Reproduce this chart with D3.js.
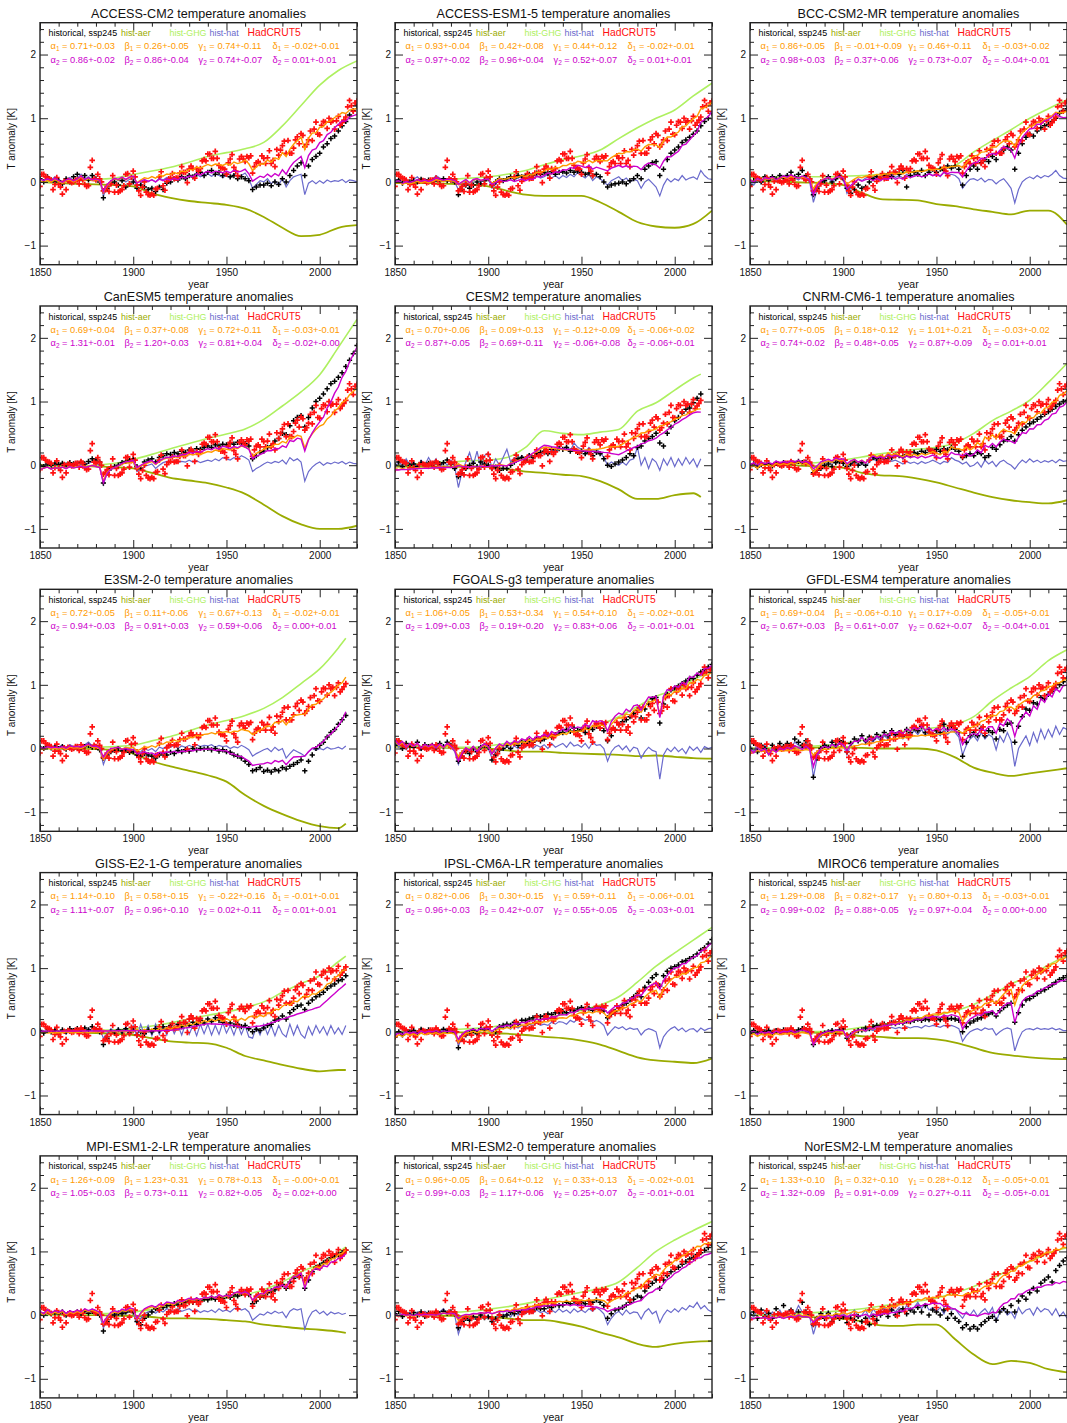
<!DOCTYPE html>
<html>
<head>
<meta charset="utf-8">
<script src="https://cdn.jsdelivr.net/npm/d3@7"></script>
<style>
  body { margin: 0; background: #fff; }
  svg { display: block; font-family: "Liberation Sans", Arial, Helvetica, sans-serif; }
</style>
</head>
<body>
<div id="container"></div>
<script>
// ---- data ----
const models = ["ACCESS-CM2", "ACCESS-ESM1-5", "BCC-CSM2-MR", "CanESM5", "CESM2", "CNRM-CM6-1",
  "E3SM-2-0", "FGOALS-g3", "GFDL-ESM4", "GISS-E2-1-G", "IPSL-CM6A-LR", "MIROC6",
  "MPI-ESM1-2-LR", "MRI-ESM2-0", "NorESM2-LM"];
const endYears = [2020, 2020, 2020, 2020, 2014, 2020, 2014, 2020, 2020, 2014, 2020, 2020, 2014, 2020, 2020];

// alpha (GHG), beta (aer), gamma (nat), delta : fit to HadCRUT5 (1) and to historical (2)
const coefs1 = [
  ["0.71+-0.03", "0.26+-0.05", "0.74+-0.11", "-0.02+-0.01"],
  ["0.93+-0.04", "0.42+-0.08", "0.44+-0.12", "-0.02+-0.01"],
  ["0.86+-0.05", "-0.01+-0.09", "0.46+-0.11", "-0.03+-0.02"],
  ["0.69+-0.04", "0.37+-0.08", "0.72+-0.11", "-0.03+-0.01"],
  ["0.70+-0.06", "0.09+-0.13", "-0.12+-0.09", "-0.06+-0.02"],
  ["0.77+-0.05", "0.18+-0.12", "1.01+-0.21", "-0.03+-0.02"],
  ["0.72+-0.05", "0.11+-0.06", "0.67+-0.13", "-0.02+-0.01"],
  ["1.06+-0.05", "0.53+-0.34", "0.54+-0.10", "-0.02+-0.01"],
  ["0.69+-0.04", "-0.06+-0.10", "0.17+-0.09", "-0.05+-0.01"],
  ["1.14+-0.10", "0.58+-0.15", "-0.22+-0.16", "-0.01+-0.01"],
  ["0.82+-0.06", "0.30+-0.15", "0.59+-0.11", "-0.06+-0.01"],
  ["1.29+-0.08", "0.82+-0.17", "0.80+-0.13", "-0.03+-0.01"],
  ["1.26+-0.09", "1.23+-0.31", "0.78+-0.13", "-0.00+-0.01"],
  ["0.96+-0.05", "0.64+-0.12", "0.33+-0.13", "-0.02+-0.01"],
  ["1.33+-0.10", "0.32+-0.10", "0.28+-0.12", "-0.05+-0.01"]
];
const coefs2 = [
  ["0.86+-0.02", "0.86+-0.04", "0.74+-0.07", "0.01+-0.01"],
  ["0.97+-0.02", "0.96+-0.04", "0.52+-0.07", "0.01+-0.01"],
  ["0.98+-0.03", "0.37+-0.06", "0.73+-0.07", "-0.04+-0.01"],
  ["1.31+-0.01", "1.20+-0.03", "0.81+-0.04", "-0.02+-0.00"],
  ["0.87+-0.05", "0.69+-0.11", "-0.06+-0.08", "-0.06+-0.01"],
  ["0.74+-0.02", "0.48+-0.05", "0.87+-0.09", "0.01+-0.01"],
  ["0.94+-0.03", "0.91+-0.03", "0.59+-0.06", "0.00+-0.01"],
  ["1.09+-0.03", "0.19+-0.20", "0.83+-0.06", "-0.01+-0.01"],
  ["0.67+-0.03", "0.61+-0.07", "0.62+-0.07", "-0.04+-0.01"],
  ["1.11+-0.07", "0.96+-0.10", "0.02+-0.11", "0.01+-0.01"],
  ["0.96+-0.03", "0.42+-0.07", "0.55+-0.05", "-0.03+-0.01"],
  ["0.99+-0.02", "0.88+-0.05", "0.97+-0.04", "0.00+-0.00"],
  ["1.05+-0.03", "0.73+-0.11", "0.82+-0.05", "0.02+-0.00"],
  ["0.99+-0.03", "1.17+-0.06", "0.25+-0.07", "-0.01+-0.01"],
  ["1.32+-0.09", "0.91+-0.09", "0.27+-0.11", "-0.05+-0.01"]
];

// hist-GHG and hist-aer at 1850,1860,...,2010 and the model's last year
const ghgSeries = [
  [0, 0, 0.02, 0.04, 0.06, 0.12, 0.17, 0.23, 0.31, 0.4, 0.46, 0.52, 0.62, 0.88, 1.2, 1.52, 1.75, 1.9],
  [0, 0, 0.02, 0.04, 0.06, 0.08, 0.12, 0.18, 0.27, 0.35, 0.41, 0.5, 0.68, 0.85, 1.0, 1.13, 1.35, 1.55],
  [0.07, 0.07, 0.08, 0.08, 0.08, 0.09, 0.1, 0.12, 0.14, 0.17, 0.2, 0.26, 0.47, 0.65, 0.82, 1.0, 1.15, 1.29],
  [-0.02, -0.02, -0.01, 0, 0.03, 0.09, 0.17, 0.26, 0.34, 0.42, 0.49, 0.57, 0.72, 0.93, 1.15, 1.42, 1.85, 2.29],
  [0, 0.02, 0.04, 0.05, 0.07, 0.08, 0.12, 0.28, 0.54, 0.5, 0.48, 0.52, 0.56, 0.85, 0.98, 1.18, 1.37, 1.43],
  [0, 0.01, 0.02, 0.03, 0.05, 0.08, 0.13, 0.18, 0.22, 0.25, 0.28, 0.35, 0.5, 0.7, 0.85, 1.02, 1.3, 1.6],
  [0, 0, 0.01, 0.02, 0.03, 0.05, 0.12, 0.19, 0.28, 0.37, 0.44, 0.52, 0.63, 0.8, 1.02, 1.25, 1.58, 1.73],
  [0.05, 0.04, 0.03, 0.02, 0.02, 0.04, 0.08, 0.12, 0.18, 0.24, 0.3, 0.38, 0.5, 0.66, 0.82, 0.92, 1.08, 1.22],
  [0, 0.01, 0.02, 0.03, 0.05, 0.08, 0.13, 0.2, 0.26, 0.3, 0.33, 0.38, 0.5, 0.75, 0.95, 1.13, 1.38, 1.55],
  [0, 0, 0.01, 0.02, 0.03, 0.05, 0.09, 0.14, 0.2, 0.26, 0.31, 0.38, 0.47, 0.62, 0.76, 0.88, 1.1, 1.19],
  [0, 0.01, 0.02, 0.03, 0.05, 0.07, 0.11, 0.16, 0.21, 0.27, 0.34, 0.42, 0.55, 0.78, 1.03, 1.24, 1.44, 1.64],
  [-0.02, -0.02, -0.01, 0, 0.01, 0.03, 0.07, 0.11, 0.16, 0.21, 0.26, 0.33, 0.43, 0.58, 0.75, 0.88, 1.05, 1.2],
  [0, 0, 0.01, 0.02, 0.03, 0.05, 0.09, 0.14, 0.19, 0.24, 0.27, 0.32, 0.4, 0.52, 0.68, 0.8, 0.98, 1.07],
  [0, 0.01, 0.02, 0.04, 0.06, 0.09, 0.13, 0.18, 0.24, 0.3, 0.36, 0.42, 0.52, 0.75, 1.0, 1.18, 1.33, 1.47],
  [0, 0, 0.02, 0.03, 0.05, 0.07, 0.1, 0.14, 0.18, 0.22, 0.27, 0.35, 0.45, 0.58, 0.72, 0.84, 0.97, 1.06]
];
const aerSeries = [
  [0, -0.02, -0.03, -0.04, -0.05, -0.07, -0.18, -0.25, -0.3, -0.33, -0.36, -0.42, -0.55, -0.72, -0.85, -0.83, -0.72, -0.68],
  [-0.02, -0.02, -0.02, -0.03, -0.04, -0.07, -0.14, -0.2, -0.22, -0.22, -0.22, -0.32, -0.47, -0.63, -0.7, -0.72, -0.66, -0.45],
  [0.02, 0.01, 0, -0.01, -0.02, -0.05, -0.17, -0.27, -0.28, -0.29, -0.35, -0.38, -0.43, -0.47, -0.51, -0.45, -0.45, -0.67],
  [0, 0, -0.01, -0.02, -0.03, -0.05, -0.12, -0.2, -0.24, -0.28, -0.35, -0.45, -0.62, -0.8, -0.93, -1.0, -1.0, -0.95],
  [-0.02, -0.02, -0.02, -0.02, -0.03, -0.03, -0.06, -0.1, -0.12, -0.15, -0.17, -0.25, -0.38, -0.53, -0.53, -0.47, -0.44, -0.5],
  [0, 0, 0, -0.01, -0.02, -0.04, -0.12, -0.16, -0.17, -0.21, -0.27, -0.35, -0.43, -0.5, -0.55, -0.58, -0.6, -0.55],
  [0, 0, 0, -0.01, -0.02, -0.08, -0.2, -0.28, -0.35, -0.42, -0.52, -0.73, -0.9, -1.03, -1.14, -1.22, -1.25, -1.18],
  [0.03, 0.02, 0.02, 0.01, 0.01, 0, -0.03, -0.05, -0.05, -0.07, -0.08, -0.09, -0.1, -0.12, -0.11, -0.13, -0.15, -0.16],
  [0, 0, 0.01, 0.01, 0.02, 0.02, 0.01, 0, 0, 0, -0.03, -0.14, -0.3, -0.38, -0.43, -0.39, -0.35, -0.31],
  [0, 0, -0.01, -0.02, -0.03, -0.05, -0.1, -0.15, -0.17, -0.18, -0.25, -0.38, -0.45, -0.52, -0.58, -0.62, -0.6, -0.6],
  [0, 0, 0, -0.01, -0.01, -0.02, -0.03, -0.05, -0.08, -0.1, -0.14, -0.2, -0.3, -0.4, -0.45, -0.47, -0.49, -0.42],
  [0, 0, 0, -0.01, -0.02, -0.03, -0.07, -0.08, -0.1, -0.1, -0.12, -0.17, -0.25, -0.33, -0.37, -0.4, -0.42, -0.43],
  [0, 0, 0, 0, -0.01, -0.01, -0.03, -0.05, -0.05, -0.06, -0.08, -0.1, -0.15, -0.18, -0.21, -0.23, -0.26, -0.28],
  [0, 0, -0.01, -0.01, -0.02, -0.03, -0.05, -0.08, -0.08, -0.12, -0.18, -0.27, -0.35, -0.45, -0.5, -0.45, -0.42, -0.41],
  [0, 0, -0.02, -0.03, -0.04, -0.06, -0.1, -0.16, -0.17, -0.15, -0.15, -0.38, -0.62, -0.77, -0.72, -0.75, -0.85, -0.9]
];

// hist-nat, every second year from 1850 to the model's last year
const natSeries = [
  [0.05,0.02,0.06,0.03,0.08, 0.04,0,0.05,0.07,0.02, 0.06,0.12,0.04,0.08,0.03, 0.05,0.02,-0.22,-0.08,0, 0.05,0.02,0.06,0,0.04, 0.05,-0.08,-0.03,0.02,0, 0.04,0,0.06,0.03,0.07, 0.05,0.08,0.04,0.09,0.06, 0.1,0.07,0.12,0.08,0.11, 0.13,0.09,0.12,0.1,0.07, 0.1,0.06,0.12,0.08,0.1, 0.14,0.05,-0.1,-0.04,0.02, 0,0.05,-0.03,0.02,-0.05, 0.06,-0.08,0.02,0.08,0.1, 0.12,-0.2,-0.02,0.02,-0.03, 0.02,-0.02,0.03,0,0.02, 0.01,0.04,-0.01,0.03,0.02, 0],
  [0.02,0.05,-0.02,0.03,0, 0.04,0.08,0.02,0.05,0, 0.03,0.1,0.06,0.02,0.05, 0.03,0,-0.12,-0.05,0.02, -0.08,0.02,0.05,0,0.03, 0.05,-0.1,-0.04,0.06,0.02, 0.04,0.08,0.03,0.06,0.1, 0.05,0.08,0.04,0.1,0.06, 0.08,0.12,0.06,0.1,0.05, 0.1,0.07,0.12,0.08,0.15, 0.1,0.06,0.12,0.02,0.08, 0.05,0,-0.05,0.02,0.05, 0.08,0.02,0.06,0,0.04, 0.02,-0.1,0,0.04,-0.02, -0.08,-0.22,-0.05,0.05,0, 0.05,0.02,0.1,0.03,0.06, 0.08,0.04,0.18,0.1,0.05, 0.04],
  [0,-0.05,0.03,-0.02,0.05, 0.02,0.06,0,0.04,0.08, 0.05,0.1,0.06,0.03,0.08, 0.05,0,-0.32,-0.12,-0.02, 0.02,0.06,0,0.05,0.08, 0.04,-0.18,-0.1,-0.02,0.05, 0.02,0.06,0.08,0.05,0.1, 0.06,0.1,0.08,0.12,0.07, 0.1,0.06,0.12,0.08,0.1, 0.12,0.08,0.1,0.14,0.1, 0.12,0.08,0.15,0.1,0.12, 0.1,0.05,-0.1,-0.02,0.04, 0.05,0.02,0.06,0,0.04, 0.03,-0.03,0.02,0.05,-0.02, -0.1,-0.33,-0.12,0,0.05, 0.08,0.05,0.1,0.06,0.1, 0.08,0.12,0.18,0.1,0.06, 0.05],
  [-0.03,0,0.02,-0.02,0.01, 0,0.02,-0.01,0.03,0, 0.02,0.04,0.01,0.03,0.05, 0.03,0,-0.3,-0.12,-0.05, -0.02,0,0.03,0.05,0.04, 0.05,-0.1,-0.06,-0.02,0, 0.02,-0.05,0,0.04,0.06, 0.05,0.07,0.04,0.06,0.05, 0.08,0.05,0.07,0.04,0.06, 0.08,0.06,0.1,0.07,0.12, 0.1,0.08,0.12,0.1,0.15, 0.12,0.08,-0.1,-0.05,-0.02, 0.02,0.05,0.03,0.06,0.04, 0.08,0.02,0.12,0.07,0.1, 0.05,-0.25,-0.1,-0.03,0.02, 0.05,0,0.04,0.02,0.05, 0.03,0.06,0.02,0.05,0.03, 0.02],
  [-0.05,0.08,-0.03,0.1,0, 0.05,-0.05,0.08,0,0.12, 0.02,0.1,-0.05,0.06,0, 0.08,-0.02,-0.35,-0.1,0.05, 0.2,0,0.22,-0.05,0.15, 0.2,-0.05,0.1,0,0.12, 0.25,0.05,0.12,0.08,0.15, 0.1,0.18,0.12,0.2,0.15, 0.22,0.18,0.25,0.2,0.28, 0.25,0.3,0.22,0.35,0.28, 0.25,0.2,0.28,0.22,0.25, 0.2,0.12,0,0.05,0.02, 0,0.05,0,0.08,0.1, 0.28,0,0.12,-0.05,0.1, 0.05,-0.08,0.1,0,0.12, -0.02,0.1,0,0.12,0.02, 0.1,-0.03,0.1],
  [0,0.03,-0.02,0.04,0.01, 0.03,0,0.05,0.02,0.04, 0.02,0.05,0.03,0.06,0.02, 0.04,0,-0.1,-0.05,0.02, 0.04,0.06,0.03,0.08,0.05, 0.06,-0.03,0.02,0.05,0, 0.03,-0.02,0.05,0.1,0.06, 0.08,0.04,0.1,0.06,0.08, 0.05,0.02,0.06,0.03,0.05, 0.02,0.06,0.03,0.05,0.08, 0.05,0.02,0.06,0.04,0.12, 0.08,0.06,0.02,0.05,-0.02, 0,0.05,-0.03,0.08,0.02, 0.06,-0.02,0.05,0.08,0.03, 0,-0.06,0.02,0.08,0.04, 0.1,0.05,0.08,0.04,0.07, 0.05,0.08,0.04,0.09,0.06, 0.07],
  [0.03,0,0.05,0.02,0.04, 0.02,0.05,0,0.06,0.03, 0.04,0.02,0.06,0.1,0.04, 0.05,0,-0.25,-0.1,-0.02, 0,0.03,-0.02,0.02,0, 0.02,-0.08,-0.05,0,-0.03, 0,-0.05,0.02,0,0.04, 0.02,0.05,0,0.04,0.02, 0.05,0.02,0.06,0.03,0.05, 0.04,0.06,0.02,0.05,0.03, 0.04,0,0.03,0.01,0.05, 0.02,-0.02,-0.12,-0.08,-0.05, -0.02,0,-0.05,0.02,-0.03, 0,-0.15,-0.08,-0.02,-0.05, -0.08,-0.12,-0.05,0,-0.03, 0,-0.02,0.02,-0.01,0, 0.02,-0.01,0.04],
  [0.1,0.02,0.08,-0.02,0.05, 0,0.06,-0.03,0.04,0, 0.05,-0.02,0.06,0,0.08, 0.02,-0.05,-0.25,-0.1,0, -0.05,0.02,-0.08,0,0.05, 0,-0.15,-0.05,0.02,-0.03, 0.05,-0.02,0.04,0,0.06, 0.02,0.08,0,0.05,0.02, 0.06,0,0.08,0.02,0.05, 0.08,0.02,0.1,0.04,0.06, 0.02,0.08,0,0.1,0.05, 0.06,0,-0.2,-0.05,0.02, 0.05,-0.02,0.04,-0.05,0.02, 0,-0.15,-0.05,0.02,-0.03, -0.05,-0.48,-0.1,0,-0.05, 0.02,-0.05,0,-0.08,0.03, -0.03,0.02,-0.06,0.03,0, 0.02],
  [0.05,-0.05,0.08,0,0.05, -0.1,0.03,-0.05,0.05,0, 0.06,0.02,0.1,0.05,0, 0.08,0,-0.45,-0.15,0, 0.05,0,0.08,0.02,0.1, 0.05,-0.1,0.05,0.12,0.1, 0.2,0.08,0.15,0.1,0.18, 0.12,0.2,0.15,0.25,0.18, 0.22,0.15,0.25,0.2,0.28, 0.22,0.3,0.2,0.26,0.18, 0.25,0.2,0.3,0.22,0.28, 0.25,0.18,-0.1,0.05,0.15, 0.2,0.12,0.25,0.15,0.22, 0.18,-0.02,0.2,0.1,0.25, 0.12,-0.28,0,0.1,0.2, 0.05,0.25,0.1,0.3,0.15, 0.3,0.18,0.35,0.22,0.33, 0.3],
  [0.03,-0.02,0.05,0,0.04, 0,0.03,-0.03,0.02,0.05, 0,0.04,-0.02,0.05,0.02, 0,0.04,-0.1,-0.03,0.05, 0,0.06,-0.02,0.08,-0.04, 0.1,-0.08,0.12,-0.05,0.1, -0.06,0.12,-0.04,0.1,-0.05, 0.12,-0.03,0.1,-0.05,0.12, -0.04,0.1,-0.06,0.12,-0.03, 0.12,-0.05,0.1,-0.04,0.14, -0.02,0.1,-0.05,0.12,-0.04, 0.1,-0.08,-0.1,0.08,-0.05, 0.12,-0.04,0.1,-0.06,0.1, -0.03,-0.08,0.12,-0.05,0.1, -0.04,-0.1,0.08,-0.05,0.1, -0.02,0.08,-0.05,0.1,-0.03, 0.06,-0.04,0.1],
  [-0.05,0.02,-0.03,0.04,0, 0.03,-0.02,0.05,0,0.04, 0.02,0.05,0,0.04,0.02, 0.03,0,-0.22,-0.08,0, 0.02,0.05,0,0.06,0.03, 0.05,-0.05,0.02,0.08,0.05, 0.08,0.04,0.1,0.06,0.1, 0.08,0.12,0.1,0.14,0.1, 0.12,0.1,0.15,0.12,0.16, 0.15,0.12,0.18,0.15,0.2, 0.22,0.18,0.2,0.15,0.18, 0.15,0.1,-0.05,0.02,0.08, 0.05,0.08,0.03,0.06,0.04, 0.05,-0.05,0.02,0.05,0.03, 0,-0.25,-0.08,0,0.05, 0.08,0.02,0.06,0,0.04, 0.05,0,0.06,0.02,0.05, 0.06],
  [0,0.03,-0.02,0.02,0, 0.02,-0.01,0.03,0,0.02, 0.01,0.03,0,0.02,0.04, 0.02,0,-0.2,-0.1,-0.03, 0,0.02,0,0.03,0.02, 0.02,-0.1,-0.05,0,0.02, 0.03,0,0.04,0.02,0.05, 0.04,0.06,0.05,0.07,0.05, 0.07,0.05,0.08,0.06,0.08, 0.08,0.06,0.1,0.08,0.1, 0.09,0.07,0.1,0.08,0.1, 0.08,0.05,-0.15,-0.06,0, 0.03,0.05,0.02,0.06,0.04, 0.05,-0.05,0,0.04,0.06, 0.04,-0.3,-0.12,0,0.04, 0.05,0.03,0.06,0.04,0.05, 0.04,0.06,0.03,0.05,0.02, 0.02],
  [0.05,0,0.08,0.02,0.06, 0.03,0.07,0,0.05,0.02, 0.06,0.02,0.08,0.04,0.07, 0.04,0,-0.2,-0.08,0, 0.03,0,0.05,0.02,0.06, 0.04,-0.15,-0.05,0.02,0.05, 0.07,0.03,0.08,0.05,0.1, 0.08,0.05,0.1,0.06,0.08, 0.1,0.06,0.08,0.04,0.07, 0.05,0.08,0.04,0.1,0.06, 0.08,0.05,0.1,0.12,0.08, 0.1,0.05,-0.08,-0.03,0.02, 0,0.05,0.02,0.06,0.03, 0.05,-0.04,0.06,0.1,0.08, 0.1,-0.22,-0.05,0.05,0.08, 0.02,0.06,0,0.05,0.02, 0.04,0.01,0.03],
  [0.05,-0.02,0.08,0,0.04, -0.03,0.05,0,0.06,0.02, 0.04,-0.02,0.05,0.1,0.02, 0.05,0,-0.3,-0.12,-0.05, -0.08,-0.02,-0.05,0,-0.04, 0,-0.1,-0.05,0.02,-0.02, 0.03,-0.03,0.05,0,0.06, 0.02,0.07,0.03,0.08,0.04, 0.06,0.02,0.08,0.04,0.1, 0.05,0.08,0.03,0.1,0.05, 0.08,0.04,0.1,0.06,0.12, 0.08,0.02,-0.15,-0.05,0.02, 0.06,0,0.08,0.02,0.05, 0.04,-0.06,0.05,0.1,0.02, 0.06,-0.12,0,0.08,0.04, 0.1,0.05,0.12,0.08,0.15, 0.12,0.2,0.1,0.15,0.08, 0.05],
  [0.05,-0.03,0.08,0,0.06, -0.05,0.05,0,0.08,-0.03, 0.04,0.1,0.02,0.15,0.05, 0.06,-0.02,-0.3,-0.1,0.02, -0.05,0.05,-0.08,0.03,-0.02, 0.05,-0.05,0.02,0.08,-0.02, 0,0.08,-0.05,0.1,0.02, 0.06,0.12,0.02,0.1,0.05, 0.12,0.05,0.15,0.08,0.12, 0.2,0.1,0.18,0.08,0.12, 0.05,0.12,0.02,0.15,0.08, 0.1,0.02,-0.05,0.05,0, 0.08,-0.02,0.05,0.1,0.02, 0.12,-0.1,0.05,0.1,0, 0.05,-0.05,0.12,0.02,0.08, 0.1,0,0.12,0.05,0.1, 0.08,0,0.1,-0.02,0.05, -0.05]
];

// historical + ssp245, every second year from 1850 to the model's last year
const histSeries = [
  [0.05,0,0.08,0.03,0, 0.02,-0.03,0.05,0,0.08, 0.12,0.05,0.1,0.03,0.1, 0.05,0,-0.25,-0.1,-0.02, 0,-0.05,0.02,-0.08,-0.03, 0,-0.1,-0.05,-0.08,-0.12, -0.1,-0.15,-0.08,-0.12,-0.02, 0,0.05,0.03,0.08,0.05, 0.1,0.08,0.12,0.15,0.1, 0.15,0.18,0.12,0.15,0.1, 0.12,0.08,0.1,0.05,0.08, 0.05,0.02,-0.12,-0.08,-0.05, -0.05,-0.02,-0.06,0,-0.04, 0.05,0,0.1,0.18,0.25, 0.3,0.1,0.25,0.35,0.4, 0.45,0.55,0.6,0.68,0.72, 0.8,0.88,0.95,1.05,1.12, 1.2],
  [0,0.03,-0.02,0.02,0, 0.02,0,0.04,0.01,0.03, 0,0.04,0.02,0.05,0.02, 0.03,0,-0.2,-0.12,-0.05, -0.1,-0.05,0,-0.03,0.02, 0.05,-0.05,0,0.05,0.02, 0.05,0.08,0.06,0.1,0.08, 0.1,0.12,0.1,0.14,0.12, 0.15,0.13,0.16,0.12,0.15, 0.16,0.14,0.18,0.15,0.17, 0.15,0.12,0.14,0.1,0.12, 0.08,0,-0.08,-0.05,-0.03, -0.02,0,-0.03,0.02,0.05, 0.1,0.05,0.2,0.25,0.3, 0.32,0.1,0.2,0.35,0.45, 0.5,0.55,0.62,0.66,0.7, 0.75,0.8,0.88,0.95,1.0, 1.08],
  [-0.05,0.02,0.05,0,0.08, 0.03,0.08,0.05,0.1,0.06, 0.1,0.15,0.08,0.12,0.18, 0.1,0.05,-0.2,-0.1,0, 0.02,0.08,0,0.05,0.1, 0.05,-0.1,-0.18,-0.12,-0.05, -0.1,-0.08,0,0.05,0.08, 0.05,0.1,0.12,0.08,0.15, 0.12,0.18,-0.08,0.1,0.15, 0.12,0.18,0.1,0.15,0.2, 0.15,0.2,0.18,0.25,0.22, 0.25,0.2,-0.05,0.1,0.2, 0.25,0.2,0.3,0.35,0.32, 0.4,0.35,0.45,0.5,0.55, 0.5,0.2,0.45,0.6,0.7, 0.75,0.72,0.8,0.85,0.88, 0.9,0.95,1.0,1.08,1.12, 1.15],
  [0,-0.02,0.02,0,0.03, 0.01,0.03,0,0.04,0.02, 0.03,0.05,0.02,0.06,0.1, 0.08,0.05,-0.28,-0.12,-0.05, -0.02,0,0.04,0.06,0.08, 0.1,-0.02,-0.05,0.05,0.08, 0.1,0.05,0.12,0.15,0.18, 0.17,0.2,0.18,0.22,0.2, 0.24,0.22,0.26,0.25,0.28, 0.3,0.28,0.32,0.3,0.33, 0.32,0.35,0.33,0.36,0.35, 0.34,0.3,0.1,0.15,0.2, 0.22,0.28,0.3,0.38,0.42, 0.5,0.48,0.62,0.7,0.75, 0.78,0.6,0.75,0.9,1.0, 1.05,1.12,1.2,1.28,1.32, 1.38,1.45,1.55,1.65,1.75, 1.88],
  [0,0.05,-0.02,0.03,0, 0.02,-0.02,0.04,0,0.03, 0,0.05,0.02,0.04,0.08, 0.02,-0.05,-0.18,-0.12,-0.05, 0,0.03,-0.02,0.05,0.02, 0,-0.05,-0.03,-0.08,-0.05, -0.05,0,0.05,0.1,0.12, 0.08,0.15,0.12,0.18,0.2, 0.22,0.18,0.25,0.22,0.26, 0.25,0.28,0.22,0.25,0.2, 0.22,0.18,0.2,0.15,0.2, 0.18,0.1,0,-0.02,0.02, 0.05,0.08,0.12,0.18,0.15, 0.28,0.3,0.38,0.42,0.45, 0.5,0.35,0.3,0.5,0.6, 0.7,0.75,0.82,0.88,0.9, 0.98,1.05,1.12],
  [-0.02,0.02,-0.03,0.01,0, 0.02,-0.01,0.03,0,0.04, 0.02,0.05,0.03,0.06,0.04, 0.05,0.02,-0.12,-0.08,-0.05, 0,0.02,-0.02,0.04,0.06, 0.03,-0.02,0.02,0.05,0, 0.04,0,0.08,0.12,0.1, 0.12,0.1,0.14,0.12,0.16, 0.15,0.13,0.17,0.15,0.2, 0.18,0.22,0.2,0.24,0.22, 0.25,0.22,0.26,0.24,0.28, 0.25,0.22,0.12,0.15,0.18, 0.15,0.2,0.18,0.12,0.15, 0.28,0.25,0.32,0.38,0.4, 0.45,0.38,0.48,0.55,0.6, 0.65,0.68,0.72,0.76,0.8, 0.84,0.88,0.92,0.96,1.0, 1.02],
  [0.02,0,0.04,0.01,0.03, 0,0.03,-0.01,0.02,0, 0.02,0,0.03,0.05,0.02, 0.02,-0.02,-0.15,-0.1,-0.05, -0.03,0,-0.04,-0.02,-0.06, -0.05,-0.1,-0.12,-0.08,-0.1, -0.12,-0.15,-0.1,-0.08,-0.1, -0.06,-0.08,-0.03,-0.05,-0.02, -0.04,0,-0.02,0,-0.01, 0,-0.02,0,-0.04,-0.02, -0.05,-0.06,-0.1,-0.12,-0.15, -0.2,-0.25,-0.35,-0.33,-0.3, -0.36,-0.34,-0.37,-0.33,-0.35, -0.3,-0.32,-0.28,-0.25,-0.22, -0.18,-0.35,-0.2,-0.1,0, 0.05,0.1,0.18,0.25,0.3, 0.38,0.45,0.52],
  [0.05,0.12,0,0.08,0.04, 0.02,0.1,0,0.06,0.03, 0.05,0,0.08,0.03,0.1, 0.05,0,-0.2,-0.12,-0.05, -0.08,0,-0.05,0.02,0.05, 0.02,-0.18,-0.1,-0.02,0, 0.05,0,0.08,0.05,0.1, 0.08,0.12,0.1,0.15,0.12, 0.15,0.2,0.18,0.22,0.25, 0.25,0.3,0.27,0.32,0.28, 0.3,0.25,0.32,0.3,0.35, 0.32,0.28,0.12,0.2,0.3, 0.38,0.42,0.45,0.5,0.55, 0.6,0.48,0.62,0.7,0.78, 0.8,0.4,0.7,0.85,0.92, 0.95,0.98,1.02,1.06,1.1, 1.1,1.15,1.2,1.24,1.28, 1.32],
  [0,0.08,-0.05,0.05,0, -0.05,0.05,0,0.08,0.03, 0.08,0.05,0.15,0.1,0.05, 0.12,0.05,-0.45,-0.15,0, 0.05,0.02,0.1,0.05,0.12, 0.1,-0.05,0.08,0.15,0.12, 0.2,0.12,0.18,0.15,0.22, 0.18,0.25,0.2,0.28,0.22, 0.25,0.2,0.3,0.25,0.32, 0.28,0.35,0.25,0.3,0.22, 0.28,0.25,0.38,0.3,0.35, 0.3,0.25,-0.12,0.1,0.2, 0.25,0.2,0.32,0.2,0.28, 0.25,0.15,0.3,0.28,0.38, 0.4,0.1,0.35,0.5,0.62, 0.6,0.72,0.7,0.8,0.78, 0.85,0.9,0.95,1.0,1.05, 1.1],
  [0.02,-0.02,0.05,0,0.03, -0.02,0.03,0,0.05,0.02, 0.05,0.02,0.06,0.03,0.08, 0.04,0,-0.2,-0.1,0, -0.02,0.03,0,0.05,-0.02, 0.02,-0.05,0,-0.03,0.03, 0,0.05,0.02,0.08,0.05, 0.1,0.06,0.12,0.08,0.14, 0.1,0.15,0.12,0.18,0.14, 0.2,0.16,0.22,0.18,0.15, 0.12,0.14,0.1,0.12,0.08, 0.1,0.05,0,0.04,0.02, 0.06,0.1,0.12,0.18,0.2, 0.25,0.2,0.3,0.35,0.4, 0.42,0.35,0.45,0.5,0.55, 0.58,0.62,0.68,0.72,0.75, 0.8,0.82,0.88],
  [-0.08,0,-0.05,0.02,0, 0.02,-0.02,0.04,0,0.03, 0,0.03,0,0.04,0.02, 0.03,0,-0.25,-0.12,-0.05, -0.02,0.02,-0.03,0.05,0.03, 0.05,-0.05,0,0.08,0.1, 0.12,0.1,0.15,0.12,0.18, 0.18,0.2,0.22,0.25,0.24, 0.25,0.28,0.27,0.3,0.3, 0.32,0.3,0.35,0.33,0.36, 0.38,0.35,0.37,0.34,0.38, 0.36,0.33,0.22,0.28,0.32, 0.38,0.42,0.45,0.5,0.55, 0.6,0.55,0.7,0.78,0.85, 0.9,0.72,0.88,0.95,1.0, 1.02,1.05,1.1,1.12,1.15, 1.18,1.22,1.28,1.32,1.38, 1.45],
  [-0.03,0.02,-0.02,0.01,0, 0.02,-0.01,0.02,0,0.03, 0.01,0.03,0,0.03,0.05, 0.03,0,-0.2,-0.12,-0.05, -0.02,0,0.02,0,0.03, 0.05,-0.1,-0.05,0,0.02, 0.03,0.06,0.05,0.08,0.1, 0.1,0.12,0.11,0.14,0.13, 0.15,0.14,0.17,0.16,0.18, 0.2,0.18,0.2,0.19,0.21, 0.2,0.19,0.22,0.2,0.21, 0.2,0.18,0,0.08,0.14, 0.17,0.2,0.22,0.26,0.28, 0.3,0.25,0.33,0.38,0.42, 0.45,0.15,0.3,0.42,0.5, 0.52,0.56,0.6,0.64,0.66, 0.7,0.74,0.78,0.82,0.85, 0.88],
  [0.03,0,0.06,0.02,0.04, 0.02,0.05,0,0.04,0.02, 0.05,0.02,0.06,0.03,0.06, 0.04,0,-0.25,-0.1,-0.03, 0,0.03,0.02,0.05,0.08, 0.05,-0.1,-0.15,-0.05,0, 0.05,0.1,0.08,0.12,0.15, 0.15,0.18,0.16,0.2,0.2, 0.22,0.2,0.24,0.22,0.25, 0.24,0.27,0.25,0.28,0.26, 0.3,0.28,0.32,0.3,0.34, 0.35,0.32,0.18,0.22,0.28, 0.3,0.35,0.38,0.4,0.45, 0.48,0.42,0.52,0.58,0.62, 0.62,0.42,0.55,0.68,0.75, 0.78,0.82,0.86,0.9,0.92, 0.95,0.98,1.02],
  [0.02,0.06,-0.02,0.03,0, 0.04,0,0.05,-0.02,0.03, 0,0.04,0.02,0.06,0.03, 0.05,0.02,-0.2,-0.1,-0.05, -0.08,-0.03,-0.06,0,-0.04, -0.03,-0.1,-0.06,0,-0.02, 0,0.04,0.02,0.06,0.05, 0.06,0.1,0.08,0.12,0.1, 0.1,0.14,0.12,0.16,0.15, 0.16,0.2,0.18,0.22,0.18, 0.2,0.18,0.22,0.2,0.24, 0.2,0.15,-0.05,0.02,0.08, 0.1,0.12,0.16,0.2,0.25, 0.3,0.28,0.38,0.45,0.5, 0.55,0.42,0.55,0.62,0.68, 0.72,0.75,0.8,0.84,0.88, 0.9,0.95,0.98,1.02,1.06, 1.1],
  [0,0.05,-0.05,0.08,-0.02, 0.03,-0.05,0.1,0,0.15, 0.02,0.08,-0.03,0.05,0.2, 0.05,0,-0.15,-0.05,0.02, -0.05,0.03,-0.1,0,-0.05, -0.03,-0.12,-0.05,-0.08,-0.02, -0.1,-0.05,-0.15,-0.02,-0.08, 0,0.05,-0.02,0.08,0, 0.05,0.1,0.02,0.08,0.05, 0.12,0.05,0.15,0,0.08, 0.05,0,0.08,-0.05,0.02, -0.05,-0.1,-0.2,-0.15,-0.22, -0.18,-0.22,-0.15,-0.1,-0.05, -0.02,-0.08,0.05,0.1,0.05, 0.15,0.05,0.22,0.3,0.25, 0.35,0.42,0.38,0.5,0.55, 0.6,0.52,0.7,0.78,0.85, 0.9]
];

// HadCRUT5 annual global mean (relative to 1961-1990), 1850-2020
const hadcrut5 = [
  -0.42,-0.23,-0.23,-0.27,-0.29,-0.30,-0.32,-0.47,-0.39,-0.28,
  -0.39,-0.43,-0.54,-0.34,-0.47,-0.33,-0.34,-0.36,-0.35,-0.32,
  -0.32,-0.38,-0.29,-0.32,-0.39,-0.42,-0.41,-0.12,-0.01,-0.30,
  -0.32,-0.23,-0.30,-0.35,-0.49,-0.47,-0.42,-0.50,-0.38,-0.25,
  -0.51,-0.40,-0.51,-0.49,-0.47,-0.41,-0.23,-0.22,-0.38,-0.28,
  -0.18,-0.27,-0.40,-0.49,-0.56,-0.43,-0.35,-0.51,-0.55,-0.56,
  -0.54,-0.56,-0.46,-0.45,-0.27,-0.19,-0.41,-0.48,-0.34,-0.30,
  -0.29,-0.22,-0.30,-0.29,-0.29,-0.21,-0.11,-0.20,-0.20,-0.36,
  -0.15,-0.10,-0.14,-0.29,-0.14,-0.18,-0.14,-0.02,0.00,-0.02,
  0.09,0.09,0.02,0.02,0.13,0.02,-0.09,-0.13,-0.13,-0.15,
  -0.23,-0.05,0.01,0.08,-0.12,-0.18,-0.25,0.01,0.05,0.01,
  -0.03,0.05,0.03,0.06,-0.21,-0.11,-0.05,-0.03,-0.06,0.06,
  0.02,-0.06,0.03,0.14,-0.06,-0.01,-0.11,0.16,0.07,0.15,
  0.22,0.29,0.10,0.30,0.10,0.10,0.18,0.31,0.36,0.25,
  0.41,0.38,0.20,0.24,0.31,0.45,0.30,0.48,0.59,0.40,
  0.39,0.54,0.60,0.59,0.49,0.65,0.59,0.61,0.48,0.61,
  0.68,0.54,0.58,0.62,0.67,0.83,0.93,0.85,0.76,0.89,
  0.92
];

const xTicks = [1850, 1900, 1950, 2000];
const yTicks = [-1, 0, 1, 2];

// ---- layout ----
const W = 1067, H = 1423;
const colX = [40, 395, 750];
const rowTop = 22.7, rowStep = 283.3;
const pw = 317, ph = 242;

const colors = {
  hist: "#000000", aer: "#9aab00", ghg: "#aef060", nat: "#6a6acc",
  obs: "#ff1010", fit1: "#ff9a00", fit2: "#cc00cc"
};

const x = d3.scaleLinear().domain([1850, 2020]).range([0, pw]);
const y = d3.scaleLinear().domain([-1.3, 2.5]).range([ph, 0]);

const svg = d3.select("#container").append("svg")
  .attr("width", W).attr("height", H)
  .attr("viewBox", [0, 0, W, H]);
svg.append("rect").attr("width", W).attr("height", H).attr("fill", "#fff");

const obsYears = d3.range(1850, 2021);
const baseline = d3.mean(hadcrut5.slice(0, 51));
const crossPath = s => `M${-s},0H${s}M0,${-s}V${s}`;
const line = d3.line().x(d => x(d[0])).y(d => y(d[1]));
const smooth = d3.line().x(d => x(d[0])).y(d => y(d[1])).curve(d3.curveMonotoneX);

models.forEach((name, m) => {
  const g = svg.append("g")
    .attr("transform", `translate(${colX[m % 3]},${rowTop + Math.floor(m / 3) * rowStep})`);
  const end = endYears[m];

  const dYears = d3.range(1850, 2011, 10).concat([end]);
  const ghg = dYears.map((yr, i) => [yr, ghgSeries[m][i]]);
  const aer = dYears.map((yr, i) => [yr, aerSeries[m][i]]);
  const ghgAt = d3.scaleLinear().domain(dYears).range(ghgSeries[m]);
  const aerAt = d3.scaleLinear().domain(dYears).range(aerSeries[m]);

  const nYears = d3.range(1850, end + 1, 2);
  const nat = natSeries[m].map((v, i) => [nYears[i], v]).filter(d => d[0] !== undefined);
  const hist = histSeries[m].map((v, i) => [nYears[i], v]).filter(d => d[0] !== undefined);
  const obs = obsYears.filter(yr => yr <= end).map((yr, i) => [yr, hadcrut5[i] - baseline]);

  const fit = coefs => {
    const [a, b, c, d] = coefs.map(parseFloat);
    return nat.map(([yr, n]) => [yr, a * ghgAt(yr) + b * aerAt(yr) + c * n + d]);
  };

  // title
  g.append("text")
    .attr("x", pw / 2).attr("y", -5)
    .attr("text-anchor", "middle")
    .attr("font-size", 12.6)
    .attr("fill", "#111")
    .text(`${name} temperature anomalies`);

  // clip
  g.append("clipPath").attr("id", `clip${m}`)
    .append("rect").attr("width", pw).attr("height", ph);
  const plot = g.append("g").attr("clip-path", `url(#clip${m})`);

  plot.append("path").datum(aer).attr("d", smooth)
    .attr("fill", "none").attr("stroke", colors.aer).attr("stroke-width", 1.8);
  plot.append("path").datum(ghg).attr("d", smooth)
    .attr("fill", "none").attr("stroke", colors.ghg).attr("stroke-width", 1.6);
  plot.append("path").datum(nat).attr("d", line)
    .attr("fill", "none").attr("stroke", colors.nat).attr("stroke-width", 1.2);

  plot.append("g").selectAll("path").data(hist).join("path")
    .attr("transform", d => `translate(${x(d[0])},${y(d[1])})`)
    .attr("d", crossPath(2.6))
    .attr("stroke", colors.hist).attr("stroke-width", 1.5);
  plot.append("g").selectAll("path").data(obs).join("path")
    .attr("transform", d => `translate(${x(d[0])},${y(d[1])})`)
    .attr("d", crossPath(2.8))
    .attr("stroke", colors.obs).attr("stroke-width", 1.7);

  plot.append("path").datum(fit(coefs1[m])).attr("d", line)
    .attr("fill", "none").attr("stroke", colors.fit1).attr("stroke-width", 1.4);
  plot.append("path").datum(fit(coefs2[m])).attr("d", line)
    .attr("fill", "none").attr("stroke", colors.fit2).attr("stroke-width", 1.4);

  // axes (ticks inward on all sides)
  const xMinor = d3.range(1850, 2021, 10).filter(v => !xTicks.includes(v));
  const yMinor = d3.range(-12, 25, 2).map(v => v / 10).filter(v => !yTicks.includes(v));
  const styleAxis = a => a.call(s => s.select(".domain").remove())
    .call(s => s.selectAll("line").attr("stroke", "#222").attr("stroke-width", 1));

  g.append("g").attr("transform", `translate(0,${ph})`)
    .call(d3.axisBottom(x).tickValues(xTicks).tickSize(-8).tickPadding(4).tickFormat(d3.format("d")))
    .call(styleAxis)
    .call(s => s.selectAll("text").attr("font-size", 10).attr("fill", "#111")
      .attr("font-family", "Liberation Sans, Arial, sans-serif"));
  g.append("g").attr("transform", `translate(0,${ph})`)
    .call(d3.axisBottom(x).tickValues(xMinor).tickSize(-4).tickFormat(""))
    .call(styleAxis);
  g.append("g")
    .call(d3.axisTop(x).tickValues(xTicks).tickSize(-8).tickFormat(""))
    .call(styleAxis);
  g.append("g")
    .call(d3.axisTop(x).tickValues(xMinor).tickSize(-4).tickFormat(""))
    .call(styleAxis);

  g.append("g")
    .call(d3.axisLeft(y).tickValues(yTicks).tickSize(-8).tickPadding(4).tickFormat(d3.format("d")))
    .call(styleAxis)
    .call(s => s.selectAll("text").attr("font-size", 10).attr("fill", "#111")
      .attr("font-family", "Liberation Sans, Arial, sans-serif"));
  g.append("g")
    .call(d3.axisLeft(y).tickValues(yMinor).tickSize(-4).tickFormat(""))
    .call(styleAxis);
  g.append("g").attr("transform", `translate(${pw},0)`)
    .call(d3.axisRight(y).tickValues(yTicks).tickSize(-8).tickFormat(""))
    .call(styleAxis);
  g.append("g").attr("transform", `translate(${pw},0)`)
    .call(d3.axisRight(y).tickValues(yMinor).tickSize(-4).tickFormat(""))
    .call(styleAxis);

  g.append("rect").attr("width", pw).attr("height", ph)
    .attr("fill", "none").attr("stroke", "#222").attr("stroke-width", 1.4);

  // axis titles
  g.append("text")
    .attr("x", pw / 2).attr("y", ph + 23)
    .attr("text-anchor", "middle").attr("font-size", 10.5).attr("fill", "#111")
    .text("year");
  g.append("text")
    .attr("transform", `translate(-25,${ph / 2 - 5}) rotate(-90)`)
    .attr("text-anchor", "middle").attr("font-size", 10).attr("fill", "#111")
    .text("T anomaly [K]");

  // legend
  const leg = [
    ["historical, ssp245", colors.hist, 8.5, 8.9],
    ["hist-aer", colors.aer, 81, 8.9],
    ["hist-GHG", colors.ghg, 129.5, 8.9],
    ["hist-nat", colors.nat, 169.5, 8.9],
    ["HadCRUT5", colors.obs, 207.5, 10.3]
  ];
  leg.forEach(([t, c, lx, fs]) => {
    g.append("text").attr("x", lx).attr("y", 13.5)
      .attr("font-size", fs).attr("fill", c).text(t);
  });

  const greek = ["α", "β", "γ", "δ"];
  const colsX = [10.5, 84.5, 158.5, 232.5];
  [[coefs1[m], "1", colors.fit1, 26.8], [coefs2[m], "2", colors.fit2, 40]].forEach(([cf, sub, c, ly]) => {
    cf.forEach((val, k) => {
      const t = g.append("text").attr("x", colsX[k]).attr("y", ly)
        .attr("font-size", 9.3).attr("fill", c);
      t.append("tspan").text(greek[k]);
      t.append("tspan").attr("font-size", 6.5).attr("dy", 2).text(sub);
      t.append("tspan").attr("dy", -2).text(` = ${val}`);
    });
  });
});
</script>
</body>
</html>
